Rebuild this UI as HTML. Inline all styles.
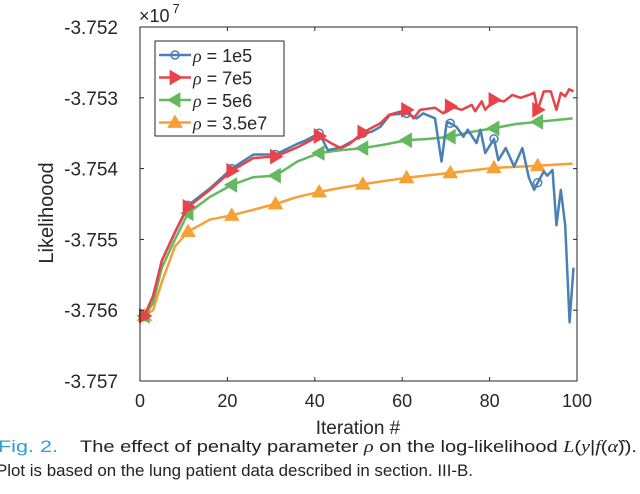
<!DOCTYPE html>
<html><head><meta charset="utf-8"><style>
html,body{margin:0;padding:0;background:#fff}
svg{display:block;font-family:"Liberation Sans",Arial,sans-serif}
</style></head><body>
<svg id="chart" width="640" height="494" viewBox="0 0 640 494">
<rect x="0" y="0" width="640" height="494" fill="#fff"/>
<g id="plot"></g>
<g id="axes"></g>
<text x="139" y="22" font-size="18" fill="#262626">×10<tspan dx="3" dy="-9" font-size="13">7</tspan></text>
<text x="358" y="434" font-size="19" text-anchor="middle" fill="#262626">Iteration #</text>
<text transform="translate(53,213) rotate(-90)" font-size="20" text-anchor="middle" fill="#262626">Likelihoood</text>
<g id="legend"></g>
<text x="-2" y="452" font-size="17" fill="#2a9fd6" textLength="60" lengthAdjust="spacingAndGlyphs">Fig. 2.</text>
<text x="80" y="452" font-size="17" fill="#222" textLength="557" lengthAdjust="spacingAndGlyphs">The effect of penalty parameter <tspan font-style="italic" font-family="Liberation Serif">ρ</tspan> on the log-likelihood <tspan font-style="italic" font-family="Liberation Serif">L</tspan>(<tspan font-style="italic" font-family="Liberation Serif">y</tspan>|<tspan font-style="italic" font-family="Liberation Serif">f</tspan>(<tspan font-style="italic" font-family="Liberation Serif">α̂</tspan>)).</text>
<text x="-4" y="476" font-size="17" fill="#222" textLength="477" lengthAdjust="spacingAndGlyphs">Plot is based on the lung patient data described in section. III-B.</text>
</svg>
<script>
const xTicks=[0,20,40,60,80,100];
const yTicks=[-3.752,-3.753,-3.754,-3.755,-3.756,-3.757];
const yTickLabels=["-3.752","-3.753","-3.754","-3.755","-3.756","-3.757"];
const markerIters=[1,11,21,31,41,51,61,71,81,91];
const seriesNames=["ρ = 1e5","ρ = 7e5","ρ = 5e6","ρ = 3.5e7"];
const blueIt=[1,3,5,8,11,16,21,26,31,36,38,41,43,46,49,51,53,55,57.2,61,63.3,64.8,67.5,69,70.2,71,72.4,74,75,77,77.9,79,81,82,83.7,85.6,87.5,89,90.2,91,92.4,93.2,94.4,95.3,96.3,97.3,98.3,99.2];
const blueV=[-3.75608,-3.7558,-3.7553,-3.7549,-3.75452,-3.75428,-3.754,-3.7538,-3.7538,-3.75365,-3.7536,-3.7535,-3.75374,-3.7537,-3.7536,-3.7535,-3.75348,-3.75341,-3.75324,-3.75322,-3.75329,-3.75322,-3.75329,-3.7539,-3.75334,-3.75336,-3.75341,-3.75355,-3.75345,-3.75364,-3.75345,-3.75378,-3.75358,-3.75388,-3.75371,-3.75397,-3.75371,-3.75413,-3.7543,-3.7542,-3.75404,-3.7541,-3.75402,-3.7548,-3.7543,-3.7548,-3.75617,-3.7554];
const redIt=[1,3,5,8,11,16,21,26,31,36,41,44,46,48,51,55,57,61,62.6,64.1,67.5,69.4,71,73.6,75.9,76.7,78.2,79,81,83.3,85.2,87.1,89,90.2,91,92.4,94,95.3,96.3,97.3,98.2,99.2];
const redV=[-3.75608,-3.7558,-3.7553,-3.7549,-3.75454,-3.7543,-3.75403,-3.75385,-3.75383,-3.7537,-3.75354,-3.75365,-3.75371,-3.75365,-3.75349,-3.75336,-3.75324,-3.75317,-3.75329,-3.75317,-3.75314,-3.75322,-3.75312,-3.75317,-3.7531,-3.75319,-3.75305,-3.75317,-3.75303,-3.75305,-3.75296,-3.753,-3.75296,-3.75293,-3.75317,-3.75291,-3.75291,-3.75317,-3.75293,-3.75298,-3.75288,-3.75291];
const greenIt=[1,3,5,8,11,16,21,26,31,36,41,46,51,56,61,66,71,76,81,86,91,99];
const greenV=[-3.75608,-3.7559,-3.7554,-3.755,-3.75463,-3.7544,-3.75423,-3.75412,-3.7541,-3.7539,-3.75378,-3.75374,-3.75371,-3.75366,-3.7536,-3.75358,-3.75355,-3.75348,-3.75343,-3.75337,-3.75334,-3.75329];
const orangeIt=[1,3,5,8,11,16,21,26,31,36,41,46,51,61,71,81,91,99];
const orangeV=[-3.75608,-3.756,-3.7556,-3.7551,-3.75489,-3.75472,-3.75466,-3.75458,-3.7545,-3.7544,-3.75433,-3.75427,-3.75422,-3.75413,-3.75406,-3.75399,-3.75396,-3.75393];

const NS="http://www.w3.org/2000/svg";
const X0=140,X1=577,Y0=27,Y1=381;
const xs=v=>X0+(v-0)/(100-0)*(X1-X0);
const ys=v=>Y0+(-3.752-v)/(0.005)*(Y1-Y0);
function mk(tag,attrs,parent){const e=document.createElementNS(NS,tag);for(const k in attrs)e.setAttribute(k,attrs[k]);parent.appendChild(e);return e;}
const axes=document.getElementById('axes'),plot=document.getElementById('plot'),legend=document.getElementById('legend');
const box=mk('rect',{x:X0,y:Y0,width:X1-X0,height:Y1-Y0,fill:'none',stroke:'#262626','stroke-width':1},axes);


xTicks.forEach(t=>{
  const x=xs(t);
  const l=mk('line',{x1:x,x2:x,y1:Y1,y2:Y1-4,stroke:'#262626'},axes);
  
  
  const l2=mk('line',{x1:x,x2:x,y1:Y0,y2:Y0+4,stroke:'#262626'},axes);
  
  
  const tx=mk('text',{x:x,y:Y1+26,'font-size':18,'text-anchor':'middle',fill:'#262626'},axes);
  tx.textContent=t;
  
  
});
yTicks.forEach((t,i)=>{
  const y=ys(t);
  const l=mk('line',{x1:X0,x2:X0+4,y1:y,y2:y,stroke:'#262626'},axes);
  
  
  const l2=mk('line',{x1:X1,x2:X1-4,y1:y,y2:y,stroke:'#262626'},axes);
  
  
  const tx=mk('text',{x:X0-22,y:y+7,'font-size':19,'text-anchor':'end',fill:'#262626'},axes);
  tx.textContent=yTickLabels[i];
  
  
});
function interp(it,v,q){for(let i=0;i<it.length-1;i++){if(q>=it[i]&&q<=it[i+1]){const f=(q-it[i])/(it[i+1]-it[i]);return v[i]+f*(v[i+1]-v[i]);}}return v[v.length-1];}
function marker(type,cx,cy,color,parent){
  let e;
  if(type==='o') e=mk('circle',{cx:cx,cy:cy,r:4,fill:'none',stroke:color,'stroke-width':1.5},parent);
  else{
    const s=7;let pts;
    if(type==='>') pts=[[cx+s,cy],[cx-s*0.7,cy-s],[cx-s*0.7,cy+s]];
    else if(type==='<') pts=[[cx-s,cy],[cx+s*0.7,cy-s],[cx+s*0.7,cy+s]];
    else pts=[[cx,cy-s],[cx-s,cy+s*0.7],[cx+s,cy+s*0.7]];
    e=mk('polygon',{points:pts.map(p=>p.join(',')).join(' '),fill:color,stroke:color,'stroke-width':1},parent);
  }
  return e;
}
const series=[
 {it:orangeIt,v:orangeV,c:'#f7a035',m:'^',n:'series-rho-3.5e7'},
 {it:greenIt,v:greenV,c:'#66b85f',m:'<',n:'series-rho-5e6'},
 {it:blueIt,v:blueV,c:'#4a80b3',m:'o',n:'series-rho-1e5'},
 {it:redIt,v:redV,c:'#e8434b',m:'>',n:'series-rho-7e5'}
];
series.forEach(s=>{
  const g=mk('g',{},plot);
  
  
  const p=mk('polyline',{points:s.it.map((t,i)=>xs(t)+','+ys(s.v[i])).join(' '),fill:'none',stroke:s.c,'stroke-width':2.5,'stroke-linejoin':'round'},g);
  
  
  markerIters.forEach(q=>{
    const m=marker(s.m,xs(q),ys(interp(s.it,s.v,q)),s.c,g);
    
    
  });
});
const lb=mk('rect',{x:155,y:41,width:129,height:95,fill:'#fff',stroke:'#262626','stroke-width':1},legend);


const legColors=['#4a80b3','#e8434b','#66b85f','#f7a035'],legM=['o','>','<','^'];
seriesNames.forEach((n,i)=>{
  const y=55+i*22.5;
  const g=mk('g',{},legend);
  
  
  mk('line',{x1:159,x2:191,y1:y,y2:y,stroke:legColors[i],'stroke-width':2.5},g);
  marker(legM[i],175,y,legColors[i],g);
  const t=mk('text',{x:193,y:y+7,'font-size':18,fill:'#262626'},g);
  t.innerHTML='<tspan font-style="italic" font-family="Liberation Serif">ρ</tspan>'+n.slice(1);
});
</script>
</body></html>
